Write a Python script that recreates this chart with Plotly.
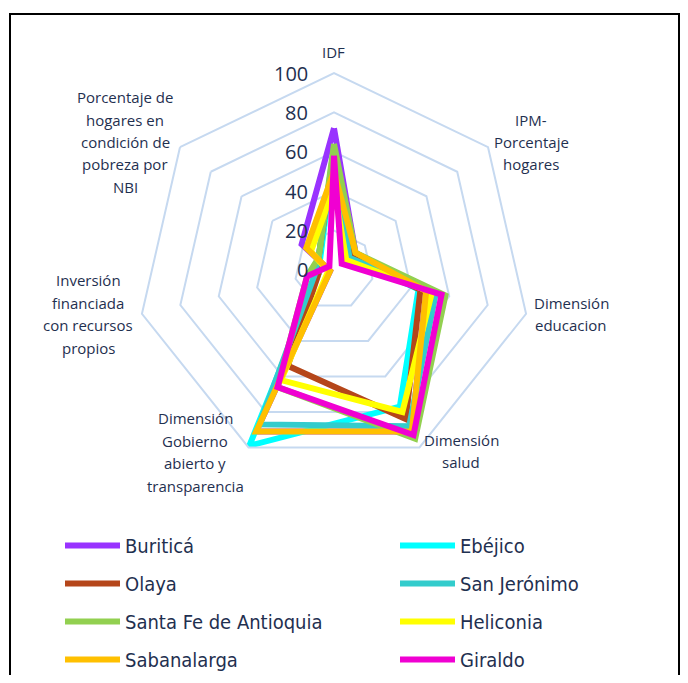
import plotly.graph_objects as go

# the page body has an 8px margin; size the figure so the page fits the 688x683 window
OFF = 8
W, H = 688 - 2 * OFF, 683 - 2 * OFF


def px(x):
    return (x - OFF) / W


def py(y):
    return 1 - (y - OFF) / H


categories = ["IDF", "IPM-Porcentaje hogares", "Dimensión educacion", "Dimensión salud",
              "Dimensión Gobierno abierto y transparencia",
              "Inversión financiada con recursos propios",
              "Porcentaje de hogares en condición de pobreza por NBI"]
category_lines = [["IDF"], ["IPM-", "Porcentaje", "hogares"], ["Dimensión", "educacion"],
                  ["Dimensión", "salud"], ["Dimensión", "Gobierno", "abierto y", "transparencia"],
                  ["Inversión", "financiada", "con recursos", "propios"],
                  ["Porcentaje de", "hogares en", "condición de", "pobreza por", "NBI"]]

series_names = ["Buriticá", "Ebéjico", "Olaya", "San Jerónimo",
                "Santa Fe de Antioquia", "Heliconia", "Sabanalarga", "Giraldo"]

# values in axis order: IDF, IPM, Educación, Salud, Gobierno, Inversión, NBI
buritica = [72, 14, 48, 91, 91, 2, 21]
ebejico = [60, 10, 44, 77, 99, 8, 9]
olaya = [60, 11, 45, 84, 54, 8, 10]
san_jeronimo = [62, 10, 53, 88, 87, 10, 10]
santa_fe = [64, 14, 58, 95, 66, 14, 10]
heliconia = [42, 8, 51, 80, 62, 3, 15]
sabanalarga = [50, 14, 48, 91, 91, 2, 18]
giraldo = [58, 5, 56, 93, 66, 14, 3]

series_values = [buritica, ebejico, olaya, san_jeronimo, santa_fe, heliconia, sabanalarga, giraldo]
colors = ["#9933FF", "#00FFFF", "#B5461A", "#33CCCC", "#92D050", "#FFFF00", "#FFC000", "#F000D2"]

radial_ticks = [0, 20, 40, 60, 80, 100]
RMAX = 100

TEXT = "#1F3050"
GRID = "#C6D9F0"

# polar geometry (screen pixels)
cx, cy, R = 334, 270, 197

fig = go.Figure()
for i, (name, vals, col) in enumerate(zip(series_names, series_values, colors)):
    fig.add_trace(go.Scatterpolar(
        r=vals + [vals[0]],
        theta=categories + [categories[0]],
        mode="lines",
        name=name,
        line=dict(color=col, width=6),
        legend="legend" if i % 2 == 0 else "legend2",
        legendgroup=name,
        hoverinfo="skip",
    ))

legend_font = dict(size=20, color=TEXT, family="Liberation Sans Narrow, DejaVu Sans Condensed, sans-serif")

fig.update_layout(
    width=W, height=H,
    margin=dict(l=0, r=0, t=0, b=0, autoexpand=False),
    paper_bgcolor="white",
    plot_bgcolor="white",
    polar=dict(
        domain=dict(x=[px(cx - R), px(cx + R)], y=[py(cy + R), py(cy - R)]),
        bgcolor="white",
        gridshape="linear",
        radialaxis=dict(
            range=[0, RMAX], tickvals=radial_ticks,
            angle=90, showline=False, showticklabels=False, ticks="",
            gridcolor=GRID, gridwidth=2,
        ),
        angularaxis=dict(
            type="category", categoryarray=categories,
            direction="clockwise", rotation=90,
            showticklabels=False, showgrid=False, ticks="",
            showline=True, linecolor=GRID, linewidth=2,
        ),
    ),
    legend=dict(
        x=px(60), y=py(526), xanchor="left", yanchor="top",
        orientation="v", tracegroupgap=9, itemwidth=55,
        font=legend_font, bgcolor="rgba(0,0,0,0)",
    ),
    legend2=dict(
        x=px(395), y=py(526), xanchor="left", yanchor="top",
        orientation="v", tracegroupgap=9, itemwidth=55,
        font=legend_font, bgcolor="rgba(0,0,0,0)",
    ),
    shapes=[dict(type="rect", xref="paper", yref="paper",
                 x0=px(10), x1=px(679), y0=-0.05, y1=py(14),
                 line=dict(color="black", width=2))],
)

# radial tick labels, placed left of the vertical IDF axis at each ring
for t in radial_ticks:
    fig.add_annotation(x=px(cx - 24), y=py(cy - t / RMAX * R), xref="paper", yref="paper",
                       text=str(t), showarrow=False, xanchor="right", yanchor="middle",
                       font=dict(size=20, color=TEXT, family="Open Sans, sans-serif"))

# axis category labels placed around the chart, one annotation per text line
label_centers = [(333, 52), (531, 142), (571, 314), (461, 451), (195, 452), (88, 314), (125, 142)]
LINE_H = 22.4
for lines, (lx, ly) in zip(category_lines, label_centers):
    n = len(lines)
    for k, line in enumerate(lines):
        yy = ly + (k - (n - 1) / 2) * LINE_H
        fig.add_annotation(x=px(lx), y=py(yy), xref="paper", yref="paper",
                           text=line, showarrow=False, xanchor="center", yanchor="middle",
                           font=dict(size=15, color=TEXT, family="Open Sans, sans-serif"))

fig.write_html("out.html")
